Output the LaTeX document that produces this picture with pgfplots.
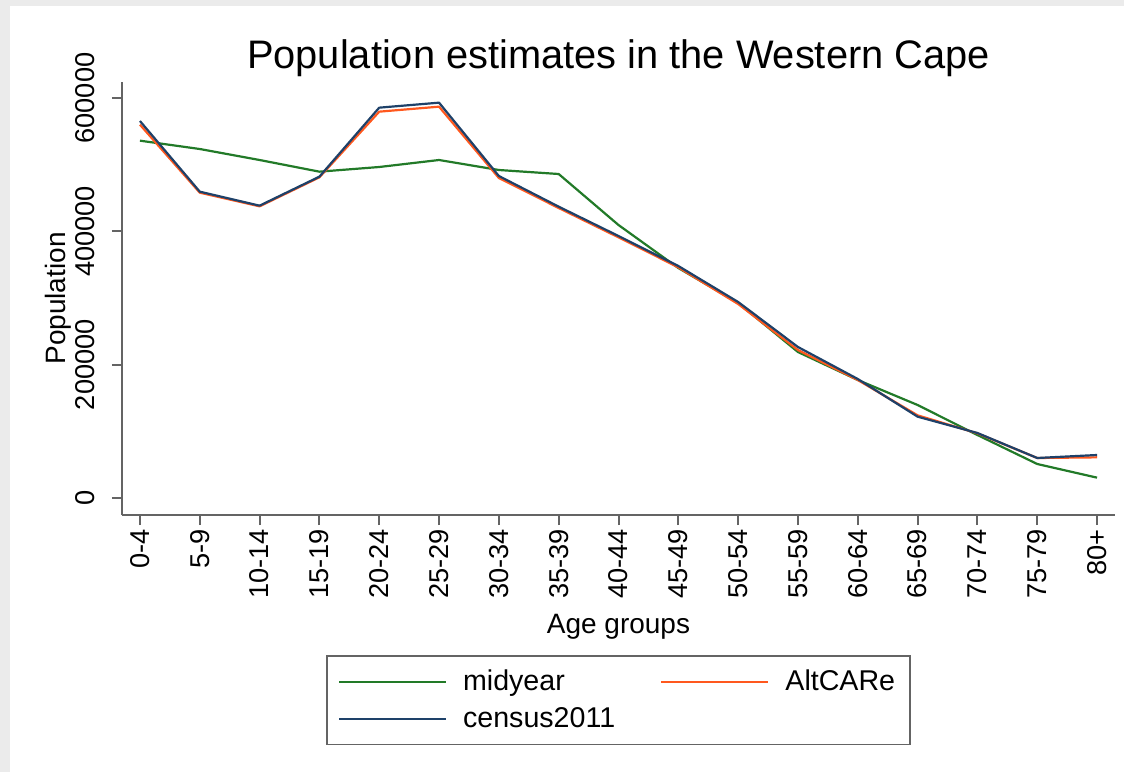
\documentclass[border=0pt]{standalone}
\usepackage{fontspec}
\setmainfont{Liberation Sans}
\usepackage{pgfplots}
\pgfplotsset{compat=1.18}
\definecolor{mgreen}{RGB}{34,122,40}
\definecolor{morange}{RGB}{255,88,30}
\definecolor{mnavy}{RGB}{30,65,105}
\definecolor{axgray}{RGB}{100,100,100}
\definecolor{bggray}{RGB}{235,235,235}
\begin{document}
\begin{tikzpicture}
\useasboundingbox (0,0) rectangle (562pt,386pt);
\fill[bggray] (0,0) rectangle (562pt,386pt);
\fill[white] (5pt,0) rectangle (562pt,383pt);
\begin{axis}[
  at={(61pt,128.5pt)}, anchor=south west,
  scale only axis, width=496.5pt, height=216.5pt,
  xmin=-0.3, xmax=16.3, ymin=-25500, ymax=624000,
  axis x line*=bottom, axis y line*=left,
  axis line style={axgray, line width=1pt, -},
  tick style={axgray, line width=1pt},
  tick align=outside, major tick length=5pt,
  xtick={0,...,16},
  xticklabels={0-4,5-9,10-14,15-19,20-24,25-29,30-34,35-39,40-44,45-49,50-54,55-59,60-64,65-69,70-74,75-79,80+},
  ytick={0,200000,400000,600000},
  yticklabels={0,200000,400000,600000},
  scaled y ticks=false,
  /pgf/number format/assume math mode=true,
  xticklabel shift=2pt,
  yticklabel shift=6.5pt,
  xticklabel style={rotate=90, anchor=east, inner sep=0pt, font=\fontsize{13.6pt}{15pt}\selectfont},
  yticklabel style={xshift=-2pt, rotate=90, anchor=south, inner sep=0pt, font=\fontsize{13.6pt}{15pt}\selectfont},
  xlabel={Age groups}, ylabel={Population},
  xlabel style={at={(axis description cs:0.5,-0.2587)}, anchor=center, font=\fontsize{14pt}{16pt}\selectfont},
  ylabel style={at={(axis description cs:-0.0645,0.5)}, anchor=center, rotate=0, font=\fontsize{14pt}{16pt}\selectfont},
  title={Population estimates in the Western Cape},
  title style={at={(axis description cs:0.5,1)}, anchor=center, yshift=6pt, font=\fontsize{19.9pt}{22pt}\selectfont},
  legend columns=2,
  legend cell align=left,
  legend image code/.code={\draw[#1] (0pt,0pt) -- (53.5pt,0pt);},
  legend style={at={(axis description cs:0.5,-0.3233)}, anchor=north,
    draw=axgray, line width=0.8pt, inner xsep=5.5pt, inner ysep=5pt,
    font=\fontsize{14.3pt}{16pt}\selectfont,
    row sep=3pt,
    /tikz/every odd column/.append style={column sep=6pt},
    /tikz/every even column/.append style={column sep=20.5pt}},
  every axis plot/.append style={line width=1.1pt, line join=round},
]
\addplot[mgreen] coordinates {(0,536000)(1,523500)(2,507000)(3,489500)(4,496500)(5,507000)(6,492000)(7,486000)(8,409500)(9,345000)(10,292500)(11,219000)(12,177000)(13,139500)(14,94500)(15,51000)(16,30500)};
\addlegendentry{midyear}
\addplot[morange] coordinates {(0,560000)(1,458000)(2,437500)(3,481000)(4,579500)(5,587000)(6,480000)(7,435000)(8,391000)(9,346000)(10,291000)(11,222000)(12,177000)(13,124000)(14,97000)(15,60000)(16,61000)};
\addlegendentry{AltCARe}
\addplot[mnavy] coordinates {(0,565500)(1,459500)(2,438500)(3,482000)(4,585500)(5,593000)(6,483000)(7,437000)(8,393000)(9,348000)(10,294000)(11,226500)(12,178500)(13,122000)(14,97500)(15,60000)(16,64500)};
\addlegendentry{census2011}
\end{axis}
\end{tikzpicture}
\end{document}
